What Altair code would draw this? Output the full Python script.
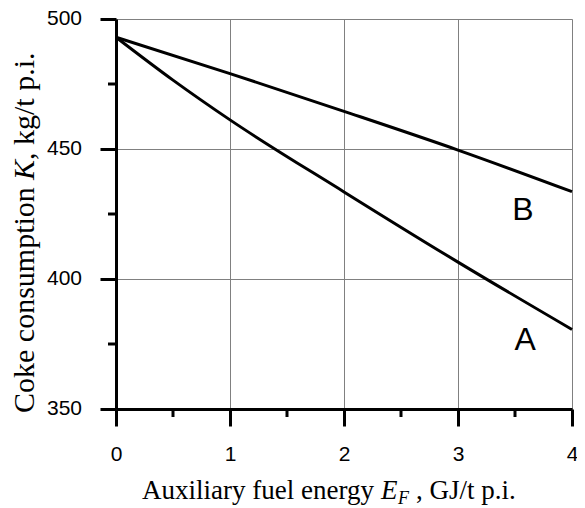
import altair as alt
import pandas as pd

# Curve data
a_x = [0, 0.5, 1, 2, 3, 4]
a_y = [493, 476.5, 461.2, 433.5, 406.5, 380.6]
b_x = [0, 1, 2, 3, 4]
b_y = [493, 479, 464.5, 449.6, 433.6]

x_major = [0, 1, 2, 3, 4]
x_minor = [0.5, 1.5, 2.5, 3.5]
y_major = [350, 400, 450, 500]
y_minor = [375, 425, 475]

label_names = ["A", "B"]
label_x = [3.59, 3.57]
label_y = [376.5, 426.5]

lines_df = pd.DataFrame(
    {"x": a_x + b_x, "y": a_y + b_y, "curve": ["A"] * len(a_x) + ["B"] * len(b_x)}
)
labels_df = pd.DataFrame({"name": label_names, "x": label_x, "y": label_y})

xscale = alt.Scale(domain=[0, 4], nice=False, zero=False)
yscale = alt.Scale(domain=[350, 500], nice=False, zero=False)

x_axis = alt.Axis(
    values=x_major,
    format="d",
    title=None,
    grid=True,
    gridColor="#808080",
    gridWidth=1,
    tickSize=17,
    tickWidth=3,
    tickColor="black",
    domainColor="black",
    domainWidth=3,
    labelFont="Liberation Sans",
    labelFontSize=21,
    labelColor="black",
    labelPadding=17,
    labelBaseline="top",
    labelFlush=False,
)
y_axis = alt.Axis(
    values=y_major,
    title=None,
    labels=False,
    grid=True,
    gridColor="#808080",
    gridWidth=1,
    tickSize=16,
    tickWidth=3,
    tickColor="black",
    domainColor="black",
    domainWidth=3,
)

lines = (
    alt.Chart(lines_df)
    .mark_line(color="black", strokeWidth=3, interpolate="monotone")
    .encode(
        x=alt.X("x:Q", scale=xscale, axis=x_axis),
        y=alt.Y("y:Q", scale=yscale, axis=y_axis),
        detail="curve:N",
    )
)

# y tick labels, positioned through the y scale
ylabels = (
    alt.Chart(pd.DataFrame({"v": y_major}))
    .mark_text(font="Liberation Sans", fontSize=21, color="black", align="right", baseline="middle")
    .encode(y=alt.Y("v:Q", scale=yscale), x=alt.value(-34), text=alt.Text("v:Q", format="d"))
)

# minor ticks, positioned through the scales
xminor = (
    alt.Chart(pd.DataFrame({"v": x_minor}))
    .mark_rule(color="black", strokeWidth=3, clip=False)
    .encode(x=alt.X("v:Q", scale=xscale), y=alt.value(390), y2=alt.value(398))
)
yminor = (
    alt.Chart(pd.DataFrame({"v": y_minor}))
    .mark_rule(color="black", strokeWidth=3, clip=False)
    .encode(y=alt.Y("v:Q", scale=yscale), x=alt.value(-8), x2=alt.value(0))
)

labels = (
    alt.Chart(labels_df)
    .mark_text(font="Liberation Sans", fontSize=32, color="black", align="center", baseline="middle")
    .encode(x=alt.X("x:Q", scale=xscale), y=alt.Y("y:Q", scale=yscale), text="name:N")
)

one = pd.DataFrame({"k": [0]})
serif = "Liberation Serif"


def txt(s, x, y, size, style="normal", align="left", angle=0):
    return (
        alt.Chart(one)
        .mark_text(
            text=s, font=serif, fontSize=size, fontStyle=style, align=align,
            baseline="alphabetic", angle=angle, color="black",
        )
        .encode(x=alt.value(x), y=alt.value(y))
    )


titles = [
    txt("Auxiliary fuel energy", 26, 480, 27),
    txt("E", 265, 480, 27, "italic"),
    txt("F", 282, 485, 18, "italic"),
    txt(", GJ/t p.i.", 300, 480, 27),
    txt("Coke consumption", -82, 394, 30, angle=270),
    txt("K", -82, 161, 30, "italic", angle=270),
    txt(", kg/t p.i.", -82, 141, 30, angle=270),
]

chart = (
    alt.layer(lines, xminor, yminor, ylabels, labels, *titles)
    .properties(
        width=456,
        height=390,
        autosize=alt.AutoSizeParams(type="none"),
        padding={"left": 108, "top": 11, "right": 5, "bottom": 98},
    )
    .configure_view(stroke=None)
    .configure(background="white")
)

chart.save("out.html", embed_options={"renderer": "svg", "actions": False})
